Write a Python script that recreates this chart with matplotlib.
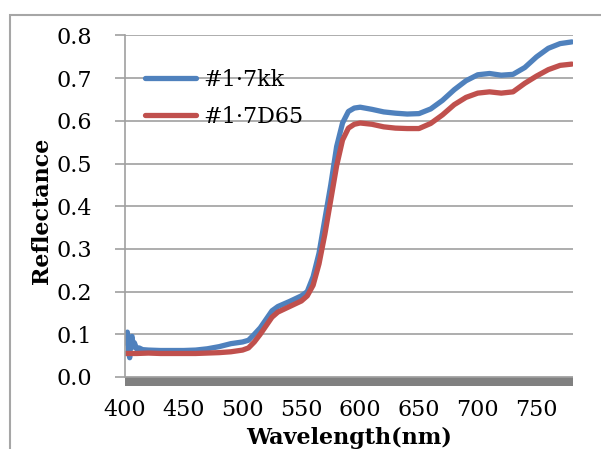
import numpy as np
import matplotlib
matplotlib.use("Agg")
import matplotlib.pyplot as plt
from matplotlib.patches import Rectangle

# wavelength samples (nm) and reflectance
wl_kk = [400, 401, 402, 403, 404, 405, 406, 407, 408, 410, 412, 415, 420, 430, 440,
         450, 460, 470, 480, 490, 500, 505, 510, 515, 520, 525, 530, 540, 550, 555,
         560, 565, 570, 575, 580, 585, 590, 595, 600, 610, 620, 630, 640, 650, 660,
         670, 680, 690, 700, 710, 720, 730, 740, 750, 760, 770, 780]
refl_kk = [0.08, 0.10, 0.105, 0.06, 0.045, 0.09, 0.095, 0.07, 0.08, 0.065, 0.068, 0.064,
           0.063, 0.062, 0.062, 0.062, 0.063, 0.066, 0.071, 0.078, 0.082, 0.086, 0.10,
           0.115, 0.135, 0.155, 0.165, 0.177, 0.19, 0.20, 0.235, 0.29, 0.37, 0.45,
           0.54, 0.595, 0.622, 0.63, 0.632, 0.627, 0.621, 0.618, 0.616, 0.617, 0.628,
           0.648, 0.673, 0.694, 0.708, 0.711, 0.707, 0.709, 0.725, 0.75, 0.77, 0.781, 0.785]

wl_d65 = [400, 410, 420, 430, 440, 450, 460, 470, 480, 490, 500, 505, 510, 515, 520,
          525, 530, 540, 550, 555, 560, 565, 570, 575, 580, 585, 590, 595, 600, 610,
          620, 630, 640, 650, 660, 670, 680, 690, 700, 710, 720, 730, 740, 750, 760,
          770, 780]
refl_d65 = [0.055, 0.055, 0.056, 0.055, 0.055, 0.055, 0.055, 0.056, 0.057, 0.059, 0.063,
            0.068, 0.082, 0.10, 0.12, 0.14, 0.152, 0.165, 0.178, 0.19, 0.215, 0.265,
            0.335, 0.415, 0.495, 0.555, 0.583, 0.592, 0.595, 0.592, 0.586, 0.583, 0.582,
            0.582, 0.594, 0.614, 0.638, 0.655, 0.665, 0.668, 0.665, 0.668, 0.688, 0.705,
            0.72, 0.73, 0.733]

labels = ["#1\u00b77kk", "#1\u00b77D65"]
colors = ["#4F81BD", "#C0504D"]

plt.rcParams["font.family"] = ["DejaVu Serif"]

fig = plt.figure(figsize=(6.01, 4.49), dpi=100)
fig.patches.append(Rectangle((10 / 601, -0.1), 1.2, 1 - 15 / 449 + 0.1,
                             transform=fig.transFigure, fill=False,
                             edgecolor="#A6A6A6", linewidth=1.5))
ax = fig.add_axes([125 / 601, 1 - 385.5 / 449, 448 / 601, 350 / 449])

ax.plot(wl_kk, refl_kk, color=colors[0], lw=3.8, label=labels[0], solid_capstyle="round")
ax.plot(wl_d65, refl_d65, color=colors[1], lw=3.8, label=labels[1], solid_capstyle="round")

ax.axhspan(-0.02, 0, color="#808080", zorder=0.5)
ax.set_xlim(400, 781)
ax.set_ylim(-0.02, 0.8)
ax.set_yticks(np.arange(0, 0.81, 0.1))
ax.set_yticklabels([f"{v:.1f}" for v in np.arange(0, 0.81, 0.1)])
ax.set_xticks(range(400, 751, 50))
ax.yaxis.grid(True, color="#A0A0A0", lw=1.2)
ax.set_axisbelow(True)

for s in ["top", "right", "bottom"]:
    ax.spines[s].set_visible(False)
ax.spines["left"].set_color("#A0A0A0")
ax.spines["left"].set_linewidth(1.2)
ax.spines["left"].set_bounds(0, 0.8)
ax.tick_params(axis="y", length=7.5, width=1.2, color="#A0A0A0", labelsize=16, pad=16)
ax.tick_params(axis="x", length=0, labelsize=16, pad=10)

ax.set_ylabel("Reflectance", fontsize=16, fontweight="bold", labelpad=3)
ax.set_xlabel("Wavelength(nm)", fontsize=16, fontweight="bold", labelpad=4)

ax.legend(loc="upper left", bbox_to_anchor=(0.01, 0.95), frameon=False, fontsize=16,
          handlelength=2.3, handletextpad=0.3, labelspacing=0.7, borderaxespad=0.3)

fig.savefig("out.png", dpi=100)
